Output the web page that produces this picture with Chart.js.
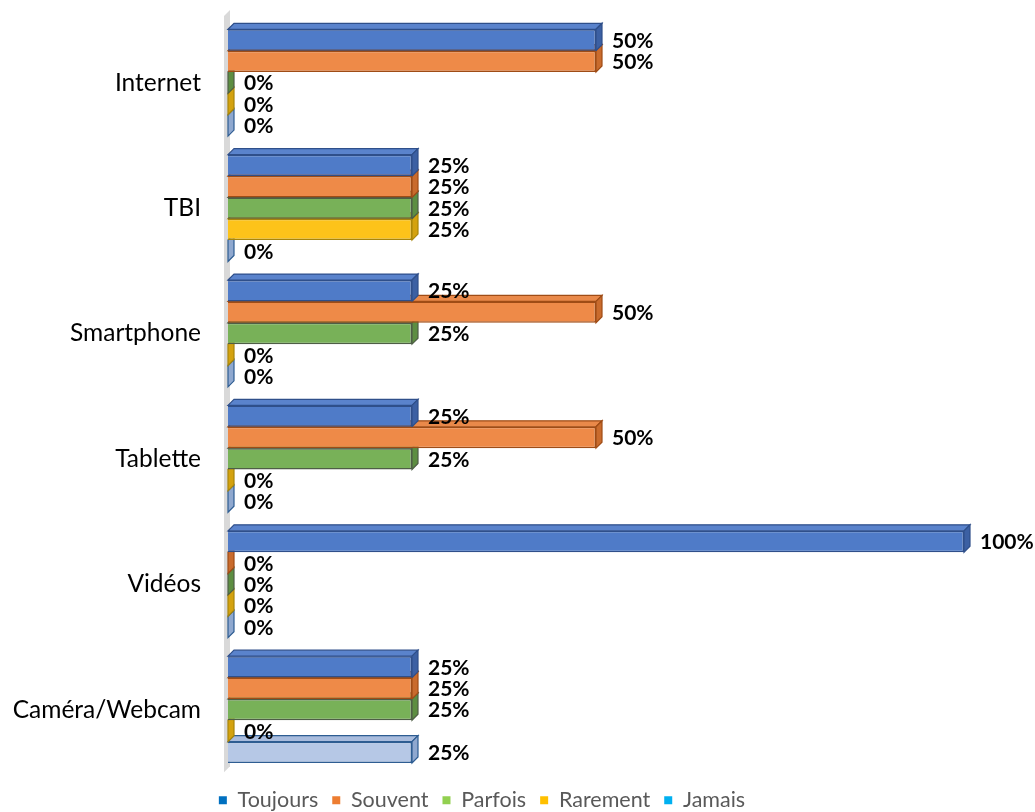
<!DOCTYPE html>
<html>
<head>
<meta charset="utf-8">
<script src="https://cdn.jsdelivr.net/npm/chart.js@4.4.1/dist/chart.umd.min.js"></script>
<style>
  html, body { margin: 0; padding: 0; background: #ffffff; }
  #wrap { width: 1035px; height: 812px; }
</style>
</head>
<body>
<div id="wrap"><canvas id="c" width="1035" height="812"></canvas></div>
<script>
const categories = ["Internet", "TBI", "Smartphone", "Tablette", "Vidéos", "Caméra/Webcam"];
const seriesNames = ["Toujours", "Souvent", "Parfois", "Rarement", "Jamais"];
const toujours = [50, 25, 25, 25, 100, 25];
const souvent  = [50, 25, 50, 50, 0, 25];
const parfois  = [0, 25, 25, 25, 0, 25];
const rarement = [0, 25, 0, 0, 0, 0];
const jamais   = [0, 0, 0, 0, 0, 25];

const frontColors  = ["#4F7BC8", "#EE8A48", "#78B158", "#FDC31A", "#B6C8E6"];
const sideColors   = ["#3C60A3", "#C96B2D", "#5D8E42", "#D4A20F", "#8FA8CF"];
const topColors    = ["#5A83CC", "#E9894A", "#7DAF60", "#EDBA1E", "#A9BCDD"];
const borderColors = ["#2F4F8A", "#9F4C16", "#4E5E46", "#A8850A", "#2E5D92"];
const legendColors = ["#0070C0", "#ED7D31", "#92D050", "#FFC000", "#00B0F0"];

const seriesValues = [toujours, souvent, parfois, rarement, jamais];
const DEPTH = 6;

const depthPlugin = {
  id: 'depth3d',
  beforeDatasetsDraw(chart) {
    const ctx = chart.ctx;
    const ca = chart.chartArea;
    ctx.save();
    ctx.fillStyle = '#D9D9D9';
    ctx.beginPath();
    ctx.moveTo(ca.left - 4, ca.top - 4);
    ctx.lineTo(ca.left + 2, ca.top - 10);
    ctx.lineTo(ca.left + 2, ca.bottom - 6);
    ctx.lineTo(ca.left - 4, ca.bottom);
    ctx.closePath();
    ctx.fill();
    ctx.restore();
    for (let d = chart.data.datasets.length - 1; d >= 0; d--) {
      const meta = chart.getDatasetMeta(d);
      meta.data.forEach((bar) => {
        const p = bar.getProps(['x', 'y', 'base', 'height'], true);
        const top = p.y - p.height / 2;
        const bot = p.y + p.height / 2;
        const x0 = p.base, x1 = p.x;
        ctx.save();
        ctx.lineWidth = 1.2;
        ctx.strokeStyle = borderColors[d];
        ctx.fillStyle = topColors[d];
        ctx.beginPath();
        ctx.moveTo(x0, top);
        ctx.lineTo(x0 + DEPTH, top - DEPTH);
        ctx.lineTo(x1 + DEPTH, top - DEPTH);
        ctx.lineTo(x1, top);
        ctx.closePath();
        ctx.fill();
        ctx.stroke();
        ctx.fillStyle = sideColors[d];
        ctx.beginPath();
        ctx.moveTo(x1, top);
        ctx.lineTo(x1 + DEPTH, top - DEPTH);
        ctx.lineTo(x1 + DEPTH, bot - DEPTH);
        ctx.lineTo(x1, bot);
        ctx.closePath();
        ctx.fill();
        ctx.stroke();
        ctx.restore();
      });
    }
  },
  afterDatasetsDraw(chart) {
    const ctx = chart.ctx;
    ctx.save();
    ctx.font = 'bold 21px Lato';
    ctx.fillStyle = '#000000';
    ctx.textAlign = 'left';
    ctx.textBaseline = 'middle';
    chart.data.datasets.forEach((ds, d) => {
      const meta = chart.getDatasetMeta(d);
      meta.data.forEach((bar, i) => {
        const p = bar.getProps(['x', 'y'], true);
        ctx.fillText(seriesValues[d][i] + '%', p.x + 16, p.y + 1);
      });
    });
    ctx.restore();
  }
};

const datasets = seriesNames.map((name, i) => ({
  label: name,
  data: seriesValues[i],
  backgroundColor: frontColors[i],
  borderColor: borderColors[i],
  borderWidth: 1.5,
  categoryPercentage: 0.852,
  barPercentage: 1.0
}));

new Chart(document.getElementById('c'), {
  type: 'bar',
  data: { labels: categories, datasets },
  plugins: [depthPlugin],
  options: {
    indexAxis: 'y',
    responsive: false,
    animation: false,
    devicePixelRatio: 1,
    layout: { padding: { left: 0, right: 71, top: 20, bottom: -9 } },
    scales: {
      x: { display: false, min: 0, max: 100 },
      y: {
        grid: { display: false, drawTicks: false },
        border: { display: false },
        ticks: { font: { family: 'Lato', size: 24.5 }, color: '#000000', padding: 27 },
        afterFit(scale) {
          scale.width = 228;
          scale.paddingTop = 0;
          scale.paddingBottom = 0;
        }
      }
    },
    plugins: {
      tooltip: { enabled: false },
      legend: {
        position: 'bottom',
        title: { display: true, text: '', font: { size: 1 }, padding: { top: 0, bottom: 2 } },
        labels: {
          font: { family: 'Lato', size: 21.5 },
          color: '#595959',
          boxWidth: 8,
          boxHeight: 8,
          padding: 14,
          generateLabels(chart) {
            return seriesNames.map((n, i) => ({
              text: n,
              fillStyle: legendColors[i],
              strokeStyle: legendColors[i],
              lineWidth: 0,
              fontColor: '#595959',
              datasetIndex: i,
              hidden: false
            }));
          }
        }
      }
    }
  }
});
</script>
</body>
</html>
